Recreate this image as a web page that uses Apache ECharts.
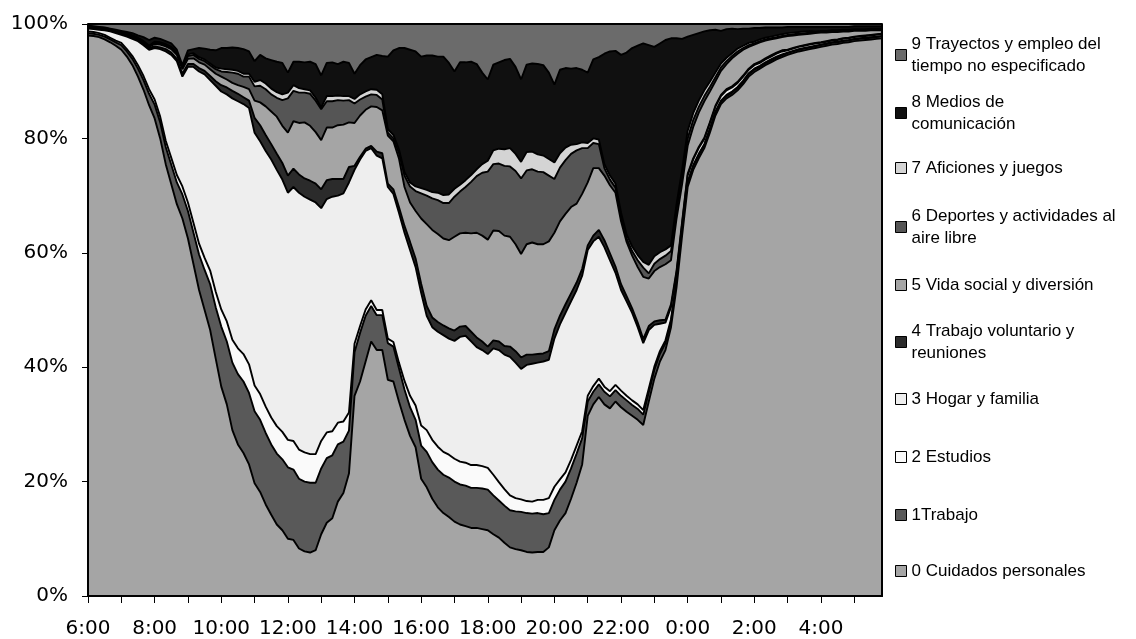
<!DOCTYPE html>
<html><head><meta charset="utf-8">
<script src="https://cdn.jsdelivr.net/npm/echarts@6/dist/echarts.min.js"></script>
<style>html,body{margin:0;padding:0;background:#fff}#c{width:1136px;height:639px}</style>
</head><body><div id="c"></div><script>
// 10-minute slots from 6:00 to 5:50 (next day)
const times = [];
for (let i = 0; i < 144; i++) { const m = 360 + i * 10; const h = Math.floor(m / 60) % 24; const mm = m % 60; times.push(h + ':' + (mm < 10 ? '0' : '') + mm); }

const cuidados = [
98.0,97.9,97.7,97.3,96.8,96.2,95.5,94.3,92.8,90.8,
88.5,85.8,83.5,80.0,75.5,72.0,68.5,66.0,62.5,58.0,
53.5,50.0,46.5,41.5,36.6,33.5,29.0,26.5,25.0,23.0,
19.7,18.2,16.0,14.2,12.5,11.5,10.0,9.8,8.3,7.8,
7.6,8.0,10.8,12.8,13.6,16.5,18.0,21.4,35.0,37.5,
41.0,44.5,43.0,43.0,37.8,37.5,34.0,30.8,28.0,26.0,
20.5,19.0,17.0,15.5,14.5,13.8,13.0,12.5,12.2,11.9,
11.9,11.7,11.5,10.8,10.2,9.3,8.5,8.2,8.0,7.7,
7.6,7.7,7.7,8.5,11.5,13.2,14.5,17.0,19.8,23.0,
31.5,33.5,34.8,33.5,32.8,34.0,33.0,32.2,31.5,30.8,
29.9,34.0,38.0,41.0,43.0,47.0,54.0,63.0,71.5,74.5,
76.5,78.3,81.0,84.0,86.0,87.0,87.6,88.4,89.5,90.8,
91.6,92.2,92.8,93.3,93.8,94.2,94.6,94.9,95.2,95.4,
95.6,95.8,96.0,96.2,96.4,96.5,96.7,96.8,97.0,97.1,
97.2,97.3,97.4,97.5];
const trabajo = [
0.4,0.4,0.4,0.5,0.5,0.6,0.8,0.9,1.1,1.4,
1.7,2.0,2.4,2.8,3.0,3.4,3.8,4.2,4.8,5.5,
6.2,7.0,8.0,9.0,10.5,11.0,11.8,12.3,12.5,12.5,
12.6,12.6,12.5,12.3,12.4,12.4,12.5,12.3,12.2,12.2,
12.2,11.8,11.5,11.3,11.0,10.0,9.0,7.5,7.6,8.5,
8.0,6.2,6.1,6.1,6.4,6.1,5.8,5.3,5.0,4.8,
5.8,6.2,6.4,6.6,6.7,6.9,7.0,7.0,7.1,7.0,
7.0,7.1,7.1,6.8,6.5,6.5,6.5,6.6,6.7,6.8,
6.8,6.8,6.6,6.0,5.3,5.4,5.5,5.3,5.1,4.6,
2.5,2.2,2.2,2.2,2.1,2.0,2.0,2.0,1.9,1.9,
1.8,1.6,1.5,1.3,1.2,1.0,0.9,0.8,0.7,0.6,
0.6,0.5,0.5,0.5,0.4,0.4,0.4,0.4,0.4,0.4,
0.4,0.3,0.3,0.3,0.3,0.3,0.3,0.3,0.3,0.3,
0.3,0.3,0.3,0.3,0.3,0.3,0.3,0.3,0.3,0.3,
0.3,0.3,0.3,0.3];
const estudios = [
0.3,0.3,0.3,0.3,0.3,0.3,0.4,0.4,0.5,0.6,
0.7,0.8,0.9,1.0,1.1,1.2,1.3,1.4,1.5,1.7,
1.9,2.1,2.4,2.7,3.0,3.5,4.0,4.5,4.8,5.0,
4.5,4.5,4.6,4.7,4.8,4.8,4.8,5.0,5.1,5.1,
5.0,5.0,4.8,4.5,4.2,3.8,3.5,3.2,1.5,1.2,
1.1,1.0,0.9,0.9,0.8,0.8,1.0,1.5,2.0,2.5,
3.5,3.8,3.9,4.0,4.0,4.0,4.0,4.0,4.0,4.0,
4.0,3.9,3.8,3.6,3.2,2.9,2.6,2.3,2.2,2.1,
2.1,2.3,2.5,2.6,2.3,1.8,1.6,1.5,1.4,1.2,
1.0,1.0,1.0,0.9,0.9,0.9,0.9,0.8,0.8,0.8,
0.8,0.7,0.6,0.5,0.5,0.4,0.3,0.2,0.2,0.2,
0.2,0.2,0.2,0.2,0.2,0.2,0.2,0.2,0.2,0.2,
0.2,0.2,0.2,0.2,0.2,0.2,0.1,0.1,0.1,0.1,
0.1,0.1,0.1,0.1,0.1,0.1,0.1,0.1,0.1,0.1,
0.1,0.1,0.1,0.1];
const hogar = [
0.5,0.5,0.6,0.8,1.1,1.3,1.4,2.2,3.0,4.2,
5.4,6.9,9.0,11.8,15.6,18.0,19.9,19.2,23.7,27.3,
30.1,32.1,33.3,36.0,38.1,39.7,42.2,43.2,43.7,44.8,
44.2,44.2,44.7,45.1,44.8,44.1,43.2,44.4,44.9,44.7,
44.5,44.0,40.7,40.8,41.0,39.7,39.9,40.2,30.4,29.1,
27.7,26.6,27.0,26.5,26.5,25.9,26.2,25.9,25.5,24.2,
23.2,20.0,19.7,20.1,20.4,20.3,20.6,21.8,22.2,21.6,
20.6,20.3,19.9,22.1,23.1,23.5,24.2,23.7,22.8,23.8,
24.1,24.0,24.2,24.2,25.9,27.1,27.9,27.7,27.2,27.2,
25.5,25.3,24.8,24.4,22.9,19.6,17.6,16.5,15.3,13.5,
11.7,10.2,7.3,4.8,3.1,2.1,1.3,1.0,1.1,1.0,
1.0,0.9,0.9,0.8,0.8,0.8,0.7,0.7,0.7,0.6,
0.6,0.5,0.5,0.5,0.5,0.5,0.4,0.4,0.4,0.4,
0.4,0.4,0.3,0.3,0.3,0.3,0.3,0.3,0.3,0.3,
0.3,0.3,0.3,0.3];
const voluntario = [
0.1,0.1,0.1,0.1,0.1,0.1,0.1,0.2,0.2,0.2,
0.3,0.3,0.3,0.3,0.4,0.4,0.4,0.5,0.5,0.5,
0.6,0.6,0.7,0.8,1.1,1.2,1.3,1.3,1.2,1.3,
2.6,2.8,2.8,2.7,2.8,2.9,3.0,3.2,3.2,3.2,
3.3,3.3,3.3,3.3,3.1,2.9,2.5,2.7,0.7,0.5,
0.4,0.4,0.7,0.9,0.6,0.8,1.0,1.2,1.4,1.5,
1.6,1.7,1.7,1.7,1.7,1.8,1.8,1.8,1.7,1.7,
1.7,1.5,1.3,1.4,1.5,1.5,1.8,2.0,2.0,1.8,
1.6,1.5,1.4,1.5,1.6,1.5,1.5,1.4,1.3,1.2,
0.8,1.0,1.2,1.2,1.2,1.1,1.0,0.9,0.8,0.8,
0.7,0.7,0.6,0.6,0.5,0.5,0.4,0.4,0.3,0.2,
0.2,0.2,0.2,0.2,0.2,0.2,0.2,0.2,0.2,0.2,
0.2,0.2,0.2,0.2,0.2,0.2,0.1,0.1,0.1,0.1,
0.1,0.1,0.1,0.1,0.1,0.1,0.1,0.1,0.1,0.1,
0.1,0.1,0.1,0.1];
const vidaSocial = [
0.1,0.1,0.1,0.1,0.1,0.1,0.2,0.2,0.2,0.2,
0.2,0.2,0.4,0.5,0.5,0.6,0.7,0.8,0.9,1.0,
1.0,1.1,1.2,1.3,1.5,1.4,1.4,1.5,1.8,2.0,
3.0,4.0,5.0,5.7,6.5,6.5,7.5,8.3,9.0,9.8,
9.6,9.0,8.6,9.2,9.0,9.4,9.5,7.8,7.5,7.2,
6.8,6.9,7.8,7.5,8.4,8.4,8.5,6.8,6.9,8.3,
11.4,14.3,15.3,15.4,15.2,15.4,16.4,16.3,16.3,17.2,
18.3,18.5,18.7,19.2,19.3,19.3,19.2,18.7,18.1,19.3,
19.6,19.2,19.1,19.2,16.9,16.5,15.8,15.1,13.8,13.1,
11.0,11.8,10.8,11.3,11.9,12.9,11.0,9.5,9.2,9.7,
10.9,8.3,8.8,9.3,9.7,7.7,9.1,6.6,4.9,5.5,
6.0,6.4,5.4,4.3,4.2,4.4,4.9,4.9,4.5,3.8,
3.4,3.4,3.1,2.8,2.5,2.3,2.4,2.2,2.0,1.9,
1.8,1.7,1.7,1.5,1.4,1.3,1.2,1.1,1.0,0.9,
0.8,0.8,0.7,0.6];
const deportes = [
0.1,0.1,0.1,0.1,0.1,0.1,0.1,0.1,0.1,0.1,
0.1,0.1,0.2,0.2,0.2,0.2,0.2,0.2,0.5,0.6,
0.6,0.6,0.7,0.8,0.9,1.3,1.8,2.0,1.8,2.2,
2.5,2.9,3.0,3.0,3.3,4.5,6.0,5.3,5.3,5.2,
5.6,5.5,5.4,4.6,4.6,4.4,4.2,3.9,3.4,2.8,
2.3,2.1,2.1,1.9,0.5,0.5,1.0,2.0,2.8,3.5,
4.4,5.0,5.5,5.9,6.2,6.5,7.0,7.3,8.0,9.0,
9.9,11.0,11.9,11.6,11.8,12.2,12.3,12.8,13.2,12.9,
12.8,12.7,12.6,11.5,9.4,9.4,9.4,9.3,9.3,8.0,
6.0,4.4,4.2,1.3,1.0,0.9,0.8,0.6,0.8,1.2,
1.6,0.9,1.3,1.4,1.5,1.6,1.5,1.4,1.3,1.2,
1.0,0.9,0.8,0.7,0.6,0.5,0.4,0.4,0.3,0.3,
0.2,0.2,0.2,0.2,0.2,0.2,0.2,0.2,0.2,0.2,
0.2,0.1,0.1,0.1,0.1,0.1,0.1,0.1,0.1,0.1,
0.1,0.1,0.1,0.1];
const aficiones = [
0.1,0.1,0.1,0.1,0.1,0.1,0.1,0.1,0.1,0.1,
0.1,0.1,0.2,0.2,0.2,0.2,0.2,0.2,0.3,0.3,
0.3,0.3,0.3,0.3,0.5,0.5,0.5,0.5,0.5,0.5,
0.8,1.0,1.0,1.0,1.0,1.0,1.0,1.0,0.8,0.6,
0.6,0.5,0.3,0.9,0.9,0.8,0.8,0.7,0.8,0.9,
0.9,0.9,0.9,0.9,0.6,0.6,0.6,0.6,0.7,0.8,
0.9,1.0,1.1,1.3,1.4,1.5,1.4,1.2,1.2,1.2,
1.2,1.5,1.9,2.4,2.6,2.9,3.2,3.0,2.9,3.2,
3.1,3.0,2.9,2.9,2.9,2.5,2.2,1.6,1.1,1.0,
0.9,0.8,0.8,0.7,0.7,0.7,0.7,0.7,0.8,0.9,
1.0,1.5,1.3,1.2,1.1,1.0,1.0,1.1,1.3,1.2,
1.1,1.0,0.9,0.8,0.7,0.6,0.5,0.5,0.4,0.4,
0.3,0.3,0.3,0.3,0.3,0.3,0.3,0.3,0.3,0.3,
0.3,0.2,0.2,0.2,0.2,0.2,0.2,0.2,0.2,0.2,
0.2,0.2,0.2,0.2];
const medios = [
0.1,0.1,0.1,0.1,0.1,0.2,0.2,0.2,0.4,0.4,
0.7,1.0,0.7,0.6,0.5,0.6,0.5,0.3,0.7,0.7,
1.6,1.9,2.4,3.0,3.6,3.7,3.9,4.0,4.3,3.9,
3.6,4.4,4.4,5.0,5.3,5.5,3.5,4.1,4.6,4.7,
5.0,5.9,5.6,5.8,5.9,5.5,6.0,5.8,4.4,5.1,
5.6,5.6,6.1,6.7,12.7,14.8,17.7,21.7,23.2,23.6,
23.0,23.5,23.9,23.8,24.2,23.0,20.5,21.4,20.6,19.8,
18.4,16.0,14.2,15.0,15.1,15.6,15.6,15.2,14.4,15.3,
15.4,15.8,15.8,15.1,13.6,14.6,13.9,13.3,13.3,12.7,
12.3,13.8,14.4,19.3,21.7,23.2,27.6,31.8,34.7,36.6,
38.2,38.4,36.6,36.5,36.6,36.2,29.0,22.9,16.5,13.7,
11.8,10.3,9.0,7.5,5.7,5.0,4.3,3.4,3.0,2.5,
2.4,2.0,1.8,1.6,1.4,1.2,1.1,1.0,0.9,0.8,
0.7,0.8,0.7,0.7,0.6,0.6,0.5,0.5,0.5,0.5,
0.5,0.4,0.4,0.4];
const trayectos = [
0.3,0.4,0.5,0.6,0.8,1.0,1.2,1.4,1.6,2.0,
2.3,2.8,2.4,2.6,3.0,3.4,4.5,7.2,4.6,4.4,
4.2,4.3,4.5,4.6,4.2,4.2,4.1,4.2,4.4,4.8,
6.5,5.4,6.0,6.3,6.6,6.8,8.5,6.6,6.6,6.7,
6.6,7.0,9.0,6.8,6.7,7.0,6.6,6.8,8.7,7.2,
6.2,5.8,5.4,5.6,5.7,4.6,4.2,4.2,4.5,4.8,
5.7,5.5,5.5,5.7,5.7,6.8,8.3,6.7,6.7,6.6,
7.0,8.5,9.7,7.1,6.7,6.3,6.1,7.5,9.7,7.1,
6.9,7.0,7.2,8.5,10.6,8.0,7.7,7.8,7.7,8.0,
8.5,6.2,5.8,5.2,4.8,4.7,5.4,5.0,4.2,3.8,
3.4,3.7,4.0,3.4,2.8,2.5,2.5,2.6,2.2,1.9,
1.6,1.3,1.1,1.0,1.2,0.9,0.8,0.9,0.8,0.8,
0.7,0.7,0.6,0.6,0.6,0.6,0.5,0.5,0.5,0.5,
0.5,0.5,0.5,0.5,0.5,0.5,0.5,0.5,0.4,0.4,
0.4,0.4,0.4,0.4];

const names = ['0 Cuidados personales','1Trabajo','2 Estudios','3 Hogar y familia','4 Trabajo voluntario y reuniones','5 Vida social y diversión','6 Deportes y actividades al aire libre','7 Aficiones y juegos','8 Medios de comunicación','9 Trayectos y empleo del tiempo no especificado'];
const labelLines = [['0 Cuidados personales'],['1Trabajo'],['2 Estudios'],['3 Hogar y familia'],['4 Trabajo voluntario y','reuniones'],['5 Vida social y diversión'],['6 Deportes y actividades al','aire libre'],['7 Aficiones y juegos'],['8 Medios de','comunicación'],['9 Trayectos y empleo del','tiempo no especificado']];
const colors = ['#a5a5a5','#595959','#fafafa','#eeeeee','#2b2b2b','#a5a5a5','#555555','#d4d4d4','#101010','#6b6b6b'];
const legendCenters = [571,515,457,399,342,285,227,168,113,55];

const raw = [cuidados,trabajo,estudios,hogar,voluntario,vidaSocial,deportes,aficiones,medios,trayectos];
const totals = times.map((_, i) => raw.reduce((s, a) => s + a[i], 0));

const series = raw.map((arr, k) => ({
  name: names[k], type: 'line', stack: 'total', symbol: 'none', smooth: false,
  z: 20 - k, silent: true, animation: false,
  data: arr.map((v, i) => +(v / totals[i] * 100).toFixed(3)),
  lineStyle: { color: '#000', width: 1.9 },
  itemStyle: { color: colors[k] },
  areaStyle: { color: colors[k], opacity: 1 },
  emphasis: { disabled: true }
}));

const legends = names.map((n, k) => {
  const lines = labelLines[k];
  const two = lines.length > 1;
  return {
    left: 895, top: two ? legendCenters[k] - 33 : legendCenters[k] - 11,
    orient: 'vertical', padding: 0, itemGap: 0,
    icon: 'rect', itemWidth: 11, itemHeight: 11, selectedMode: false,
    data: [n],
    formatter: () => lines.join('\n'),
    itemStyle: { borderColor: '#000', borderWidth: 1 },
    textStyle: { fontFamily: 'Liberation Sans, Arial, sans-serif', fontSize: 17, color: '#000', lineHeight: 22, padding: two ? [22, 0, 0, 0] : 0 }
  };
});

const chart = echarts.init(document.getElementById('c'), null, { renderer: 'canvas' });
chart.setOption({
  animation: false,
  backgroundColor: '#fff',
  grid: { left: 88, right: 254, top: 24, bottom: 43, containLabel: false },
  legend: legends,
  xAxis: [{
    type: 'category', data: times, boundaryGap: false, z: 50,
    axisLine: { lineStyle: { color: '#000', width: 2 } },
    axisTick: { show: true, interval: 5, length: 7, lineStyle: { color: '#000', width: 1 } },
    axisLabel: { interval: 11, margin: 23, fontFamily: 'DejaVu Sans', fontSize: 20, color: '#000' },
    splitLine: { show: false }
  }, {
    type: 'category', data: times, boundaryGap: false, position: 'top', z: 50,
    axisLine: { lineStyle: { color: '#000', width: 2 } },
    axisTick: { show: false }, axisLabel: { show: false }, splitLine: { show: false }
  }],
  yAxis: [{
    type: 'value', min: 0, max: 100, interval: 20, z: 50,
    axisLine: { show: true, lineStyle: { color: '#000', width: 2 } },
    axisTick: { show: true, length: 6, lineStyle: { color: '#000', width: 1 } },
    axisLabel: { formatter: '{value}%', margin: 20, fontFamily: 'DejaVu Sans', fontSize: 20, color: '#000' },
    splitLine: { show: false }
  }, {
    type: 'value', min: 0, max: 100, position: 'right', z: 50,
    axisLine: { show: true, lineStyle: { color: '#000', width: 2 } },
    axisTick: { show: false }, axisLabel: { show: false }, splitLine: { show: false }
  }],
  series: series
});
</script></body></html>
